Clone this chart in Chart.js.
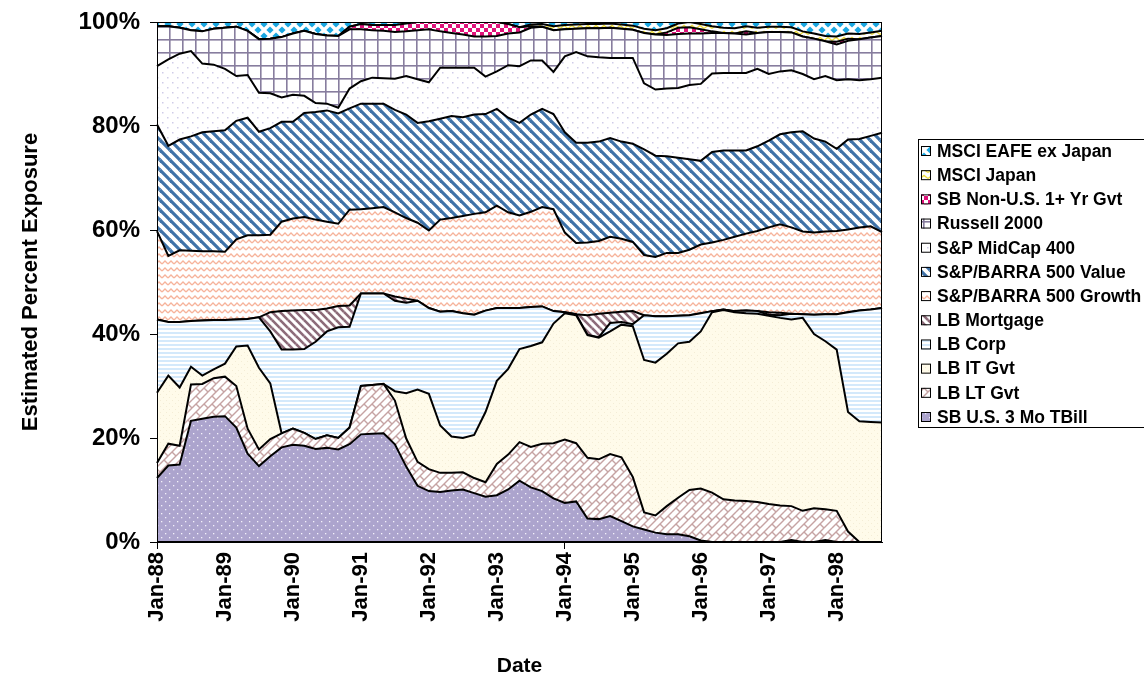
<!DOCTYPE html>
<html>
<head>
<meta charset="utf-8">
<script src="https://cdn.jsdelivr.net/npm/chart.js@4/dist/chart.umd.min.js"></script>
<style>
  html, body { margin: 0; padding: 0; background: #fff; }
  #wrap { width: 1144px; height: 679px; }
</style>
</head>
<body>
<div id="wrap"><canvas id="c" width="1144" height="679"></canvas></div>
<script>
// Month labels, every second month from Jan-88 to Sep-98 (one row per year)
const months = [
  'Jan-88','Mar-88','May-88','Jul-88','Sep-88','Nov-88',
  'Jan-89','Mar-89','May-89','Jul-89','Sep-89','Nov-89',
  'Jan-90','Mar-90','May-90','Jul-90','Sep-90','Nov-90',
  'Jan-91','Mar-91','May-91','Jul-91','Sep-91','Nov-91',
  'Jan-92','Mar-92','May-92','Jul-92','Sep-92','Nov-92',
  'Jan-93','Mar-93','May-93','Jul-93','Sep-93','Nov-93',
  'Jan-94','Mar-94','May-94','Jul-94','Sep-94','Nov-94',
  'Jan-95','Mar-95','May-95','Jul-95','Sep-95','Nov-95',
  'Jan-96','Mar-96','May-96','Jul-96','Sep-96','Nov-96',
  'Jan-97','Mar-97','May-97','Jul-97','Sep-97','Nov-97',
  'Jan-98','Mar-98','May-98','Jul-98','Sep-98'
];

// Estimated exposure (%) per asset class
const tbill = [
  12.3,14.7,14.9,23.3,23.7,24.1,
  24.2,22.0,17.0,14.6,16.5,18.2,
  18.7,18.5,17.9,18.1,17.8,18.8,
  20.7,20.8,20.9,18.8,14.5,10.8,
  9.8,9.6,9.9,10.1,9.4,8.7,
  9.0,10.1,11.8,10.5,9.8,8.4,
  7.5,7.8,4.5,4.4,5.0,4.0,
  3.0,2.4,1.8,1.5,1.5,1.1,
  0.3,0,0,0,0,0,
  0,0,0.4,0,0,0.4,
  0,0,0,0,0
];
const ltGvt = [
  2.9,4.2,3.6,7.0,6.7,7.4,
  7.6,8.0,4.8,3.2,3.3,2.7,
  3.1,2.5,1.9,2.4,2.2,3.2,
  9.3,9.4,9.5,8.4,5.4,4.6,
  4.2,3.7,3.4,3.3,2.9,2.8,
  6.0,6.7,7.4,7.8,9.1,10.6,
  12.2,11.2,11.7,11.5,11.9,12.3,
  9.5,3.3,3.3,5.4,7.0,8.9,
  10.0,9.5,8.2,8.0,7.9,7.7,
  7.3,7.0,6.5,6.0,6.5,5.9,
  6.0,2.0,0,0,0
];
const itGvt = [
  13.5,13.1,11.2,3.4,1.6,1.7,
  2.5,7.6,16.0,15.7,10.7,0,
  0,0,0,0,0,0,
  0,0,0,1.8,8.7,13.9,
  14.5,9.1,7.0,6.6,8.3,13.5,
  16.0,16.5,17.9,19.4,19.5,23.0,
  24.3,24.6,23.6,23.4,23.6,25.5,
  29.0,29.3,29.4,29.3,29.7,28.5,
  30.2,34.7,36.4,36.2,36.1,36.2,
  36.2,36.1,35.9,37.1,33.5,32.3,
  31.0,23.0,23.2,23.1,23.0
];
const corp = [
  14.1,10.3,12.6,8.8,10.6,9.5,
  8.4,5.2,5.1,9.7,10.0,16.1,
  15.2,16.1,18.7,20.0,21.3,19.4,
  17.8,17.6,17.4,17.4,17.4,17.1,
  16.5,21.9,24.1,24.0,23.1,19.5,
  14.0,11.7,7.9,7.5,6.9,2.4,
  0.2,0.2,0,0.1,1.6,0.5,
  0.4,8.6,8.9,7.2,5.3,5.1,
  3.5,0.2,0.1,0.2,0.5,0.5,
  0.2,0.5,1.1,0.7,3.7,5.2,
  6.8,19.2,21.3,21.6,22.0
];
const mortgage = [
  0,0,0,0,0,0,
  0,0,0,0,3.7,7.4,
  7.5,7.5,6.1,4.4,4.1,4.1,
  0,0,0,0.8,0.8,0,
  0,0,0,0,0,0,
  0,0,0,0,0,0,
  0,0,3.8,4.5,2.0,2.0,
  2.5,0,0,0,0,0,
  0,0,0,0,0,0,
  0.5,0.5,0,0,0,0,
  0,0,0,0,0
];
const growth = [
  17.0,12.7,13.8,13.5,13.3,13.2,
  13.1,15.4,16.1,15.8,14.9,17.2,
  17.7,17.9,17.4,16.7,15.8,18.4,
  16.2,16.4,16.6,16.2,15.5,15.0,
  14.9,17.7,17.9,18.7,19.4,18.9,
  19.7,18.4,17.8,18.3,19.1,19.6,
  15.3,13.7,14.0,14.0,14.6,14.0,
  13.3,11.6,11.4,12.2,12.1,12.6,
  13.2,13.2,13.4,14.3,14.8,15.4,
  16.3,17.0,16.6,15.9,15.8,15.9,
  16.0,15.9,16.0,16.0,14.6
];
const value = [
  20.5,21.2,21.3,22.0,22.9,23.1,
  23.4,22.8,22.6,19.9,20.5,19.2,
  18.6,20.0,20.7,21.4,21.2,19.5,
  20.3,20.1,19.9,19.7,19.9,19.2,
  21.0,19.4,19.6,19.0,19.1,18.9,
  18.6,18.2,17.8,18.7,18.9,18.3,
  19.3,19.3,19.2,19.1,19.0,18.7,
  18.9,20.3,19.5,18.6,18.3,17.4,
  16.1,17.4,17.2,16.6,16.0,16.3,
  16.7,17.3,18.3,19.3,18.1,17.3,
  15.8,17.3,17.0,17.4,19.1
];
const midCap = [
  11.2,16.6,16.5,16.4,13.2,12.8,
  11.8,8.6,8.2,7.5,6.7,4.7,
  5.2,3.3,1.7,1.3,1.1,3.8,
  4.3,5.0,4.9,6.0,7.4,8.4,
  7.5,9.8,9.3,9.5,9.0,7.2,
  7.2,10.1,10.9,10.4,9.3,8.1,
  14.6,17.4,16.6,16.2,15.4,16.1,
  16.5,12.7,12.7,13.0,13.4,14.3,
  14.8,15.1,14.9,14.9,14.9,14.9,
  12.8,12.1,11.9,11.0,11.4,12.6,
  13.2,11.6,11.3,10.9,10.6
];
const russell = [
  7.7,6.4,5.0,4.0,6.2,6.9,
  7.9,9.5,8.5,10.3,10.5,11.6,
  11.8,12.5,13.3,13.1,13.8,11.4,
  10.0,9.1,9.1,9.0,8.6,9.4,
  10.2,7.0,6.7,6.4,6.0,7.7,
  6.8,6.1,6.5,6.3,6.5,8.0,
  5.2,4.5,5.4,5.6,5.8,5.6,
  5.4,9.7,10.6,10.3,10.4,9.9,
  9.7,7.8,7.7,7.6,7.4,6.9,
  8.1,7.6,7.3,7.2,7.8,6.7,
  6.9,7.4,7.9,8.0,8.0
];
const nonUsGvt = [
  0,0,0,0,0,0,
  0,0,0,0,0,0,
  0,0,0,0,0,0.5,
  1.0,1.0,1.1,1.3,1.5,1.6,
  1.4,1.8,2.1,2.4,2.8,2.8,
  2.7,1.8,1.0,0.3,0,0,
  0,0,0,0,0,0,
  0,0,0,0.5,1.2,1.2,
  0.8,0.3,0,0,0.6,0,
  0,0,0,0,0,0,
  0.5,0.4,0,0,0
];
const japan = [
  0,0,0,0,0,0,
  0,0,0,0,0,0,
  0,0,0,0,0,0,
  0,0,0,0,0,0,
  0,0,0,0,0,0,
  0,0,0,0.3,0.5,0.8,
  0.8,0.8,0.8,0.8,0.8,0.8,
  0.8,0.8,0.8,0.8,0.8,1.0,
  1.0,1.0,1.0,1.0,1.0,1.0,
  1.0,1.0,1.0,1.0,1.0,1.0,
  1.0,1.0,1.0,1.0,1.0
];
const eafe = [
  0.8,0.8,1.1,1.6,1.8,1.3,
  1.1,0.9,1.7,3.3,3.2,2.9,
  2.2,1.7,2.3,2.6,2.7,0.9,
  0.4,0.6,0.6,0.6,0.3,0,
  0,0,0,0,0,0,
  0,0.4,1.0,0.5,0.4,0.8,
  0.6,0.5,0.4,0.4,0.3,0.5,
  0.7,1.3,1.6,1.2,0.3,0,
  0.4,0.8,1.1,1.2,0.8,1.1,
  0.9,0.9,1.0,1.8,2.2,2.8,
  2.8,2.2,2.3,2.0,1.7
];

const yTicks = [0, 20, 40, 60, 80, 100];

// ---- hatch fills -------------------------------------------------------
const scratch = document.createElement('canvas').getContext('2d');
function tile(w, h, draw) {
  const c = document.createElement('canvas');
  c.width = w; c.height = h;
  const g = c.getContext('2d');
  g.fillStyle = '#ffffff';
  g.fillRect(0, 0, w, h);
  draw(g, w, h);
  return scratch.createPattern(c, 'repeat');
}
// draw a segment in all neighbouring tile copies so it wraps cleanly
function wrapLine(g, w, h, x1, y1, x2, y2) {
  for (let dx = -w; dx <= w; dx += w) {
    for (let dy = -h; dy <= h; dy += h) {
      g.beginPath();
      g.moveTo(x1 + dx, y1 + dy);
      g.lineTo(x2 + dx, y2 + dy);
      g.stroke();
    }
  }
}
function zigzag(color, w, h, amp) {
  return tile(w, h, (g) => {
    g.strokeStyle = color; g.lineWidth = 1.3;
    g.beginPath();
    g.moveTo(0, h / 2 + amp);
    g.lineTo(w / 2, h / 2 - amp);
    g.lineTo(w, h / 2 + amp);
    g.stroke();
  });
}

const fills = {
  tbill: tile(8, 8, (g) => {
    g.fillStyle = '#aca4cd'; g.fillRect(0, 0, 8, 8);
    g.fillStyle = '#f3f1fa';
    g.fillRect(1, 1, 1.3, 1.3); g.fillRect(5, 5, 1.3, 1.3);
  }),
  ltGvt: tile(16, 16, (g, w, h) => {
    g.strokeStyle = '#c6a3a3'; g.lineWidth = 1.4;
    wrapLine(g, w, h, 0, 8, 8, 0);
    wrapLine(g, w, h, 0, 16, 16, 0);
    wrapLine(g, w, h, 8, 16, 16, 8);
    wrapLine(g, w, h, 4, 4, 8, 8);
    wrapLine(g, w, h, 12, 4, 16, 8);
    wrapLine(g, w, h, 4, 12, 8, 16);
  }),
  itGvt: tile(6, 6, (g) => {
    g.fillStyle = '#fffbea'; g.fillRect(0, 0, 6, 6);
    g.fillStyle = '#f4edd6';
    g.fillRect(1, 1, 1, 1); g.fillRect(4, 4, 1, 1);
  }),
  corp: tile(4, 4, (g) => {
    g.fillStyle = '#d4e9fb'; g.fillRect(0, 0, 4, 2);
  }),
  mortgage: tile(8, 8, (g, w, h) => {
    g.strokeStyle = '#8d6b79'; g.lineWidth = 2.6;
    wrapLine(g, w, h, 0, 0, 8, 8);
  }),
  growth: zigzag('#f6b39b', 6, 7, 1.5),
  value: tile(10, 10, (g, w, h) => {
    g.strokeStyle = '#3f72a8'; g.lineWidth = 3.2;
    wrapLine(g, w, h, 0, 0, 10, 10);
  }),
  midCap: tile(10, 10, (g) => {
    g.fillStyle = '#cfcce8';
    g.fillRect(2, 2, 1.5, 1.5); g.fillRect(7, 7, 1.5, 1.5);
  }),
  russell: tile(13, 13, (g) => {
    g.fillStyle = '#877d9e';
    g.fillRect(0, 0, 13, 1.6); g.fillRect(0, 0, 1.6, 13);
  }),
  nonUsGvt: tile(8, 8, (g) => {
    g.fillStyle = '#e0127b';
    g.fillRect(0, 0, 4, 4); g.fillRect(4, 4, 4, 4);
  }),
  japan: zigzag('#eedc3c', 8, 6, 1.6),
  eafe: tile(12, 12, (g) => {
    g.fillStyle = '#19a7e1';
    const dia = (cx, cy) => {
      g.beginPath();
      g.moveTo(cx, cy - 3.6); g.lineTo(cx + 3.6, cy);
      g.lineTo(cx, cy + 3.6); g.lineTo(cx - 3.6, cy);
      g.closePath(); g.fill();
    };
    dia(6, 6); dia(0, 0); dia(12, 0); dia(0, 12); dia(12, 12);
  })
};

// stacking order, bottom to top
const series = [
  { label: 'SB U.S. 3 Mo TBill',    data: tbill,    fill: fills.tbill },
  { label: 'LB LT Gvt',             data: ltGvt,    fill: fills.ltGvt },
  { label: 'LB IT Gvt',             data: itGvt,    fill: fills.itGvt },
  { label: 'LB Corp',               data: corp,     fill: fills.corp },
  { label: 'LB Mortgage',           data: mortgage, fill: fills.mortgage },
  { label: 'S&P/BARRA 500 Growth',  data: growth,   fill: fills.growth },
  { label: 'S&P/BARRA 500 Value',   data: value,    fill: fills.value },
  { label: 'S&P MidCap 400',        data: midCap,   fill: fills.midCap },
  { label: 'Russell 2000',          data: russell,  fill: fills.russell },
  { label: 'SB Non-U.S. 1+ Yr Gvt', data: nonUsGvt, fill: fills.nonUsGvt },
  { label: 'MSCI Japan',            data: japan,    fill: fills.japan },
  { label: 'MSCI EAFE ex Japan',    data: eafe,     fill: fills.eafe }
];

const datasets = series.map((s, i) => ({
  label: s.label,
  data: s.data,
  backgroundColor: s.fill,
  borderColor: '#000000',
  borderWidth: 2,
  fill: i === 0 ? 'origin' : '-1',
  pointRadius: 0,
  tension: 0
}));

const FONT = 'Liberation Sans, Arial, sans-serif';
const isJan = (i) => months[i] && months[i].startsWith('Jan');

// boxed legend to the right of the plot, top entry = top of the stack
const boxedLegend = {
  id: 'boxedLegend',
  afterDraw(chart) {
    const g = chart.ctx;
    const left = 918, top = 139, bottom = 427;
    g.save();
    g.strokeStyle = '#000'; g.lineWidth = 1;
    g.strokeRect(left + 0.5, top + 0.5, 300, bottom - top);
    const ds = chart.data.datasets.slice().reverse();
    const step = (bottom - top - 22) / (ds.length - 1);
    g.font = 'bold 17.5px ' + FONT;
    g.textBaseline = 'middle';
    ds.forEach((d, k) => {
      const cy = top + 12 + k * step;
      g.fillStyle = d.backgroundColor;
      g.fillRect(921, cy - 5, 10, 10);
      g.strokeStyle = '#000'; g.lineWidth = 1;
      g.strokeRect(921.5, cy - 4.5, 9, 9);
      g.fillStyle = '#000';
      g.fillText(d.label, 937, cy + 1);
    });
    g.restore();
  }
};

// thin frame around the plot area
const plotFrame = {
  id: 'plotFrame',
  afterDatasetsDraw(chart) {
    const a = chart.chartArea, g = chart.ctx;
    g.save();
    g.strokeStyle = '#000'; g.lineWidth = 1;
    g.strokeRect(Math.round(a.left) + 0.5, Math.round(a.top) + 0.5,
                 Math.round(a.right - a.left) - 1, Math.round(a.bottom - a.top) - 1);
    g.restore();
  }
};

new Chart(document.getElementById('c'), {
  type: 'line',
  data: { labels: months, datasets },
  plugins: [plotFrame, boxedLegend],
  options: {
    responsive: false,
    animation: false,
    devicePixelRatio: 1,
    layout: { padding: { left: 14, right: 262, top: 22, bottom: 0 } },
    plugins: { legend: { display: false }, tooltip: { enabled: false } },
    scales: {
      x: {
        type: 'category',
        offset: false,
        border: { color: '#000', width: 1 },
        grid: {
          drawOnChartArea: false,
          tickLength: 7,
          color: (ctx) => isJan(ctx.index) ? '#000' : 'rgba(0,0,0,0)'
        },
        ticks: {
          autoSkip: false,
          maxRotation: 90,
          minRotation: 90,
          padding: 3,
          color: '#000',
          font: { family: FONT, size: 22, weight: 'bold' },
          callback: (v, i) => isJan(i) ? months[i] : null
        },
        title: {
          display: true, text: 'Date', color: '#000',
          font: { family: FONT, size: 21, weight: 'bold' },
          padding: { top: 4, bottom: 0 }
        },
        afterFit: (s) => { s.height = 137; }
      },
      y: {
        stacked: true,
        min: 0, max: 100,
        border: { color: '#000', width: 1 },
        grid: { drawOnChartArea: false, tickLength: 7, color: '#000' },
        afterBuildTicks: (s) => { s.ticks = yTicks.map(v => ({ value: v })); },
        ticks: {
          padding: 10,
          color: '#000',
          font: { family: FONT, size: 24, weight: 'bold', lineHeight: 1 },
          callback: (v) => v + '%'
        },
        title: {
          display: true, text: 'Estimated Percent Exposure', color: '#000',
          font: { family: FONT, size: 22, weight: 'bold' },
          padding: { top: 4, bottom: 4 }
        },
        afterFit: (s) => { s.width = 143; }
      }
    }
  }
});
</script>
</body>
</html>
